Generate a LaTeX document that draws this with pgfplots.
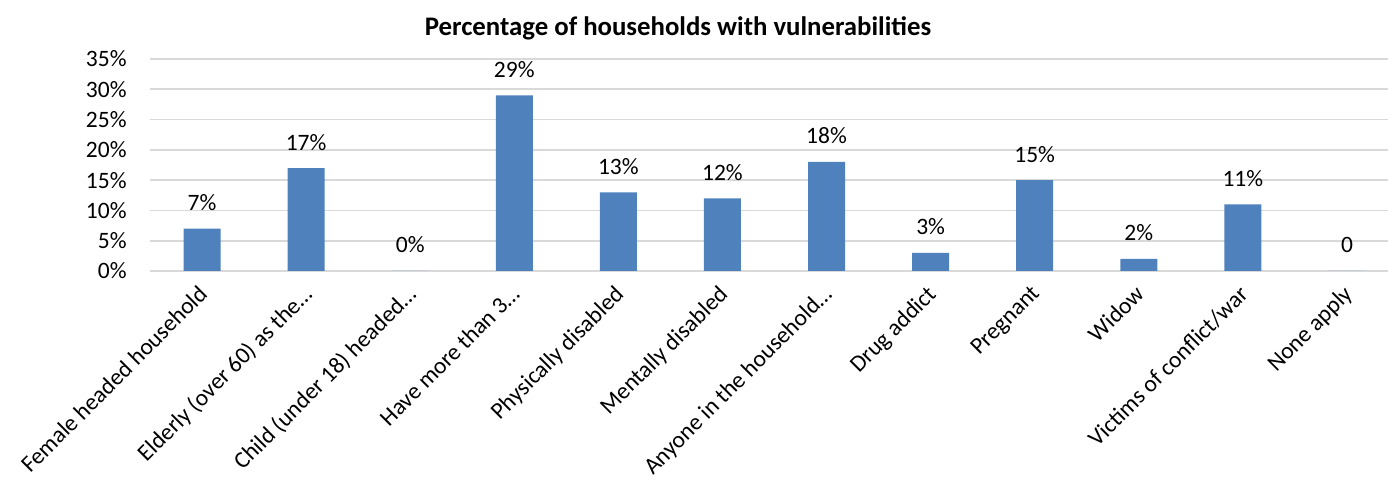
\documentclass[border=0pt]{standalone}
\usepackage{pgfplots}
\pgfplotsset{compat=1.18}
\usepackage{fontspec}
\setmainfont{Carlito}
\definecolor{barblue}{HTML}{4F81BD}
\definecolor{gridgray}{HTML}{D9D9D9}
\begin{document}
\begin{tikzpicture}[x=1pt,y=1pt]
\path[use as bounding box] (0,0) rectangle (694,240.5);
\node[font=\fontsize{13.4}{15}\selectfont\bfseries] at (339,226.5) {Percentage of households with vulnerabilities};
\begin{axis}[
  at={(75pt,105pt)}, anchor=south west,
  scale only axis, width=624.5pt, height=106pt,
  xmin=-0.5, xmax=11.5, ymin=0, ymax=35,
  axis line style={draw=none},
  ymajorgrids, major grid style={draw=gridgray, line width=0.8pt},
  tick style={draw=none},
  ytick={0,5,...,35},
  yticklabels={0\%,5\%,10\%,15\%,20\%,25\%,30\%,35\%},
  yticklabel style={anchor=east, inner sep=0pt, xshift=-11.5pt, font=\fontsize{11.75}{13}\selectfont},
  xtick={0,...,11},
  xticklabels={Female headed household, Elderly (over 60) as the…, Child (under 18) headed…, Have more than 3…, Physically disabled, Mentally disabled, Anyone in the household…, Drug addict, Pregnant, Widow, Victims of conflict/war, None apply},
  xticklabel style={xshift=-2.5pt, yshift=-2pt, rotate=45, anchor=north east, inner sep=0pt, font=\fontsize{11.75}{13}\selectfont},
  ybar, bar width=18.5pt,
  point meta=explicit symbolic,
  nodes near coords,
  every node near coord/.append style={anchor=base, yshift=9pt, inner sep=0pt, font=\fontsize{11.75}{13}\selectfont},
]
\addplot[fill=barblue, draw=none] coordinates {
  (0,7) [7\%]
  (1,17) [17\%]
  (2,0) [0\%]
  (3,29) [29\%]
  (4,13) [13\%]
  (5,12) [12\%]
  (6,18) [18\%]
  (7,3) [3\%]
  (8,15) [15\%]
  (9,2) [2\%]
  (10,11) [11\%]
  (11,0) [0]
};
\end{axis}
\end{tikzpicture}
\end{document}
